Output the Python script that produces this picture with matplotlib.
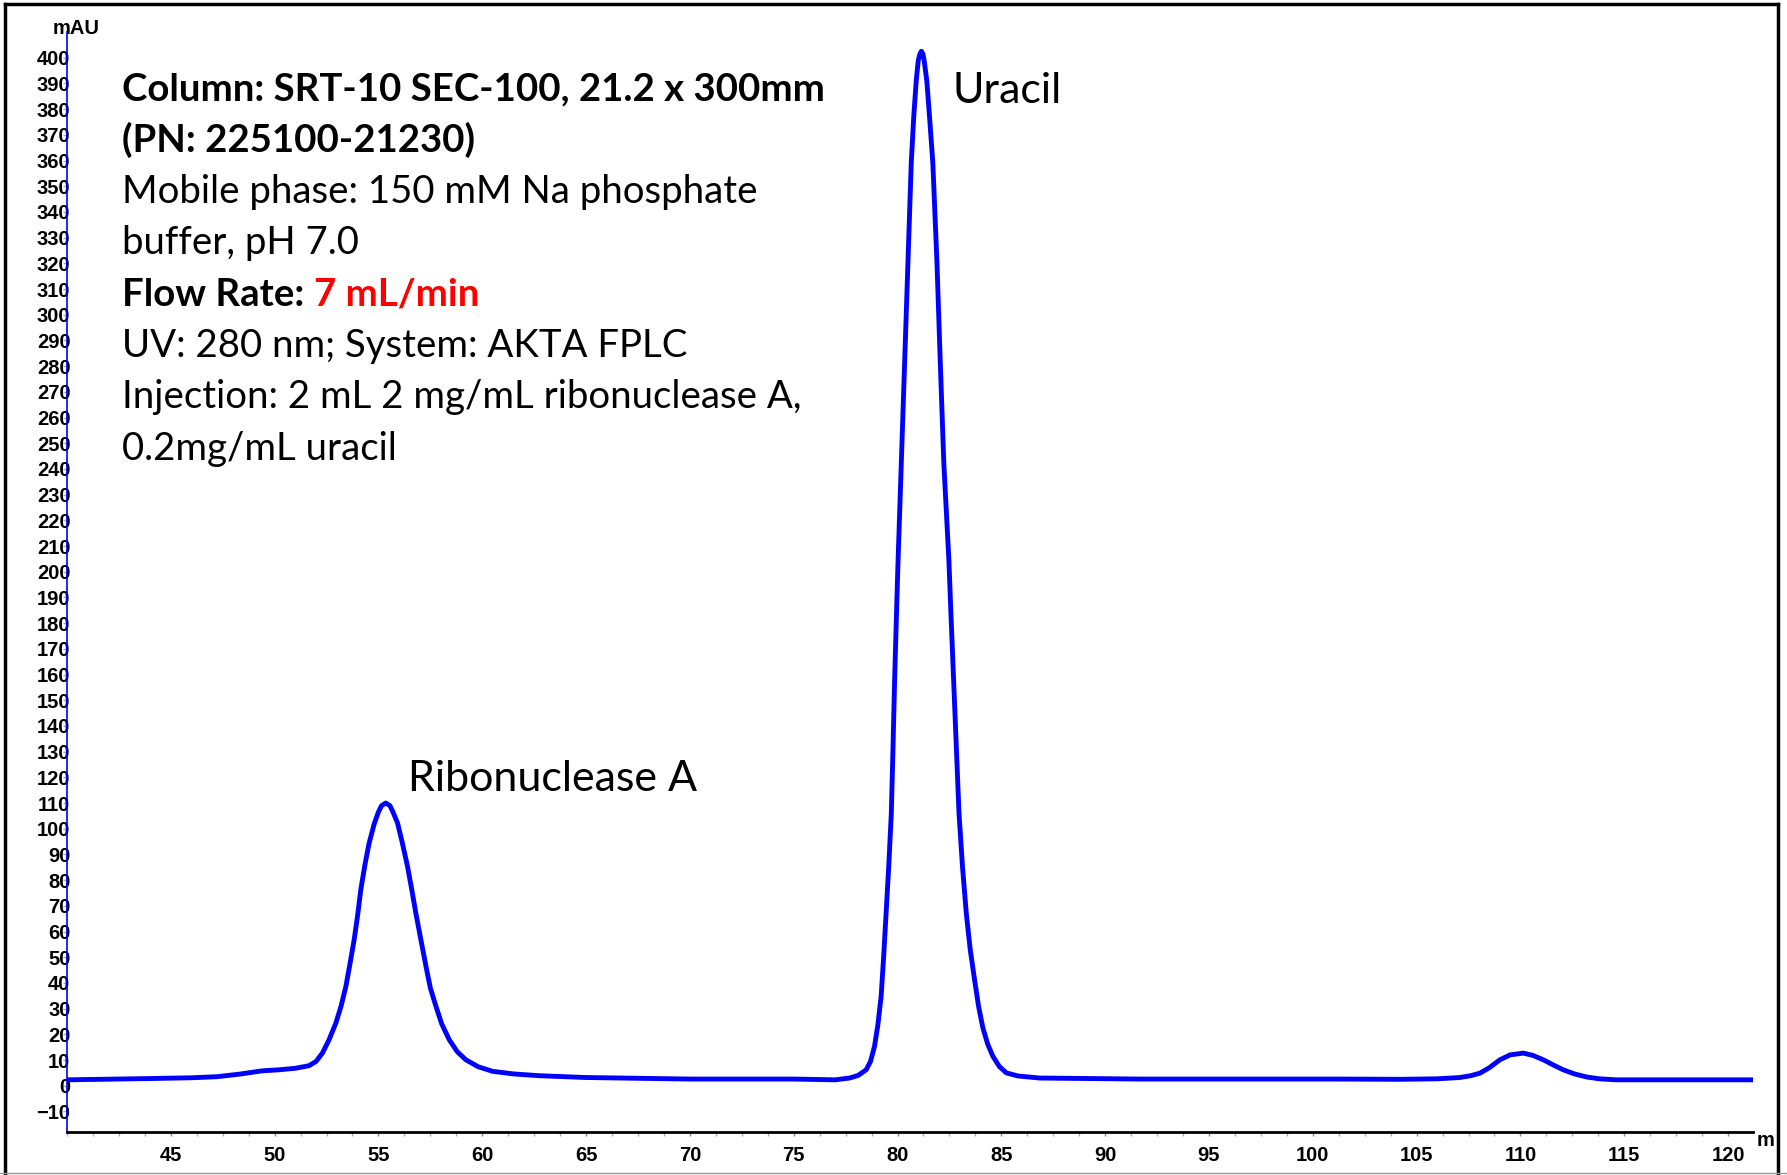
import matplotlib
matplotlib.use("Agg")
import matplotlib.pyplot as plt
from matplotlib.lines import Line2D
from matplotlib.ticker import MultipleLocator

# chromatogram trace (min, mAU)
time_min = [40.0, 44.0, 46.0, 47.2, 48.3, 49.4, 50.2, 51.0, 51.66, 52.0,
            52.3, 52.6, 52.95, 53.2, 53.43, 53.63, 53.83, 54.0, 54.15, 54.35,
            54.55, 54.8, 55.0, 55.15, 55.35, 55.55, 55.7, 55.92, 56.15, 56.4,
            56.6, 56.8, 57.05, 57.29, 57.5, 57.77, 58.05, 58.41, 58.8, 59.21,
            59.8, 60.5, 61.5, 62.75, 65.0, 70.0, 75.0, 77.0, 77.69, 78.1,
            78.49, 78.7, 78.89, 79.05, 79.21, 79.33, 79.45, 79.58, 79.7, 79.78,
            79.86, 79.94, 80.02, 80.18, 80.34, 80.5, 80.66, 80.78, 80.9, 81.0,
            81.08, 81.15, 81.22, 81.28, 81.41, 81.55, 81.7, 81.9, 82.06, 82.23,
            82.47, 82.58, 82.7, 82.83, 82.96, 83.13, 83.31, 83.5, 83.71, 83.9,
            84.11, 84.35, 84.59, 84.9, 85.24, 85.8, 86.84, 91.66, 101.3, 104.2,
            106.0, 107.08, 107.6, 108.05, 108.5, 109.01, 109.5, 110.14, 110.6, 111.1,
            111.6, 112.06, 112.6, 113.19, 113.8, 114.6, 121.2]
absorb_mau = [2.3, 2.8, 3.1, 3.5, 4.5, 5.8, 6.2, 6.8, 7.8, 9.5,
              12.7, 17.5, 24.4, 31.0, 38.6, 47.5, 56.8, 66.5, 76.3, 86.0,
              94.4, 102.0, 106.5, 109.0, 110.0, 109.0, 106.5, 102.2, 94.5, 85.3,
              76.5, 67.2, 56.5, 46.4, 38.0, 30.9, 24.0, 17.9, 13.2, 10.1,
              7.4, 5.6, 4.6, 3.9, 3.2, 2.6, 2.6, 2.3, 3.0, 4.0,
              6.2, 9.5, 15.3, 23.5, 34.8, 50.0, 67.2, 86.0, 106.0, 131.0,
              158.0, 181.0, 203.0, 242.0, 281.0, 320.0, 359.0, 377.0, 391.0, 399.0,
              401.5, 402.5, 401.5, 399.0, 391.0, 376.0, 359.0, 320.0, 281.0, 242.0,
              205.0, 182.0, 158.0, 132.0, 106.0, 85.0, 67.2, 53.0, 41.2, 31.0,
              22.5, 16.0, 11.5, 7.5, 5.0, 3.8, 3.0, 2.6, 2.6, 2.5,
              2.7, 3.2, 3.9, 4.9, 7.0, 10.1, 12.0, 12.7, 11.8, 10.1,
              8.0, 6.2, 4.6, 3.4, 2.7, 2.3, 2.3]

x_ticks = list(range(45, 121, 5))
y_ticks = list(range(-10, 401, 10))

peak_names = ["Ribonuclease A", "Uracil"]
peak_label_pos = [(56.43, 114.8), (82.65, 382.5)]

info_lines = [
    ("Column: SRT-10 SEC-100, 21.2 x 300mm", "bold"),
    ("(PN: 225100-21230)", "bold"),
    ("Mobile phase: 150 mM Na phosphate", "normal"),
    ("buffer, pH 7.0", "normal"),
    ("Flow Rate:", "bold"),
    ("UV: 280 nm; System: AKTA FPLC", "normal"),
    ("Injection: 2 mL 2 mg/mL ribonuclease A,", "normal"),
    ("0.2mg/mL uracil", "normal"),
]
flow_value = "7 mL/min"

W, H = 1787, 1175
fig = plt.figure(figsize=(W / 100, H / 100), dpi=100)
ax = fig.add_axes([67 / W, 1 - 1132 / H, (1753 - 67) / W, (1132 - 32) / H])

ax.plot(time_min, absorb_mau, color="#0000ff", lw=3.5,
        solid_joinstyle="round", solid_capstyle="round")

ax.set_xlim(40, 121.2)
ax.set_ylim(-18, 410)
ax.set_xticks(x_ticks)
ax.set_yticks(y_ticks)
ax.xaxis.set_minor_locator(MultipleLocator(1.25))

for s in ["top", "right"]:
    ax.spines[s].set_visible(False)
ax.spines["left"].set_color("#0000ff")
ax.spines["left"].set_linewidth(1.2)
ax.spines["bottom"].set_color("black")
ax.spines["bottom"].set_linewidth(2)

tick_font = {"family": "Liberation Sans", "weight": "bold", "size": 14.5}
ax.tick_params(axis="x", which="major", length=3, width=1, color="#888888", pad=7)
ax.tick_params(axis="x", which="minor", length=3, width=1, color="#aaaaaa")
ax.tick_params(axis="y", length=3, width=1, color="#aaaaaa", pad=-5.5)
for lab in ax.get_xticklabels() + ax.get_yticklabels():
    lab.set_fontproperties(tick_font)

fig.text(53 / W, 1 - 28 / H, "mAU", ha="left", va="center", **tick_font)
fig.text(1757 / W, 1 - 1140 / H, "m", ha="left", va="center", **tick_font)

# annotation block
txt_font = "Lato"
x0 = 122 / W
last = None
for i, (line, wt) in enumerate(info_lines):
    y = 1 - (100.5 + 51.3 * i) / H
    t = fig.text(x0, y, line, ha="left", va="baseline", family=txt_font,
                 weight=wt, size=27.6)
    if line.startswith("Flow"):
        last = t
ax.annotate(flow_value, xy=(1, 0), xycoords=last, xytext=(7, 0),
            textcoords="offset points", ha="left", va="bottom",
            family=txt_font, weight="bold", size=27.6, color="#ff0000")

for name, (px, py) in zip(peak_names, peak_label_pos):
    ax.text(px, py, name, ha="left", va="baseline", family=txt_font, size=31)

# outer frame
fx = lambda p: p / W
fy = lambda p: 1 - p / H
fig.add_artist(Line2D([fx(5), fx(5)], [fy(4), 0], color="black", lw=2.5))
fig.add_artist(Line2D([fx(5), fx(1778)], [fy(4), fy(4)], color="black", lw=2.5))
fig.add_artist(Line2D([fx(1778), fx(1778)], [fy(4), 0], color="black", lw=2.5))
fig.add_artist(Line2D([0, 1], [fy(1173), fy(1173)], color="#999999", lw=1))

fig.savefig("out.png", dpi=100)
